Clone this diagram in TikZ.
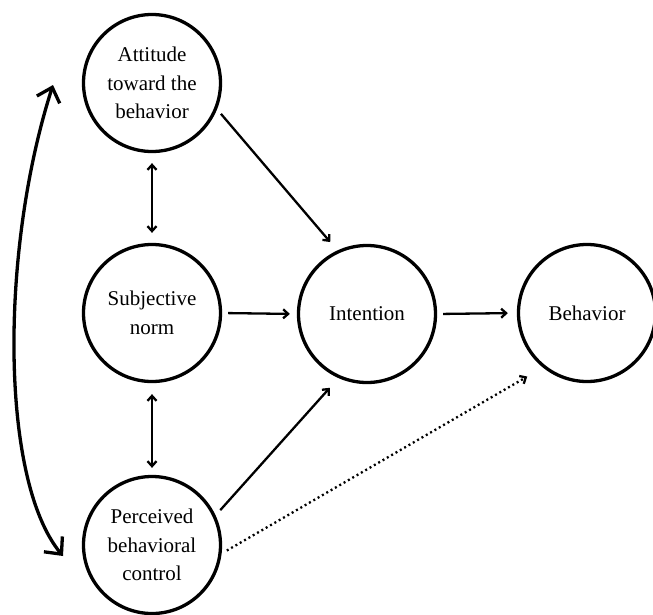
\documentclass[tikz,border=0pt]{standalone}
\usepackage{fontspec}
\setmainfont{Liberation Serif}
\usetikzlibrary{arrows.meta}
\begin{document}
\begin{tikzpicture}[x=1pt,y=-1pt,
  concept/.style={circle,draw,line width=3.3pt,minimum size=137pt,inner sep=0pt,align=center,
    font=\fontsize{21}{28.5}\selectfont},
  link/.style={line width=2.3pt,-{Straight Barb[length=5pt,width=9pt,line width=2.3pt]}},
  biLink/.style={line width=2.3pt,{Straight Barb[length=5pt,width=9pt,line width=2.3pt]}-{Straight Barb[length=5pt,width=9pt,line width=2.3pt]}},
  bigLink/.style={line width=3.3pt,{Straight Barb[length=13pt,width=24pt,line width=3.3pt]}-{Straight Barb[length=13pt,width=24pt,line width=3.3pt]}},
  dotLink/.style={line width=2.3pt,dash pattern=on 2pt off 3pt,-{Straight Barb[length=5pt,width=9pt,line width=2.3pt]}}
]
\useasboundingbox (0,0) rectangle (653,614);
\node[concept] (att) at (152,83) {Attitude\\toward the\\behavior};
\node[concept] (sub) at (152,313) {Subjective\\norm};
\node[concept] (pbc) at (152,545) {Perceived\\behavioral\\control};
\node[concept] (int) at (367,314) {Intention};
\node[concept] (beh) at (587,313) {Behavior};
\coordinate (ctop) at (53,85);
\coordinate (cbot) at (63,556);

\draw[biLink,shorten <=10pt,shorten >=10pt] (att.south) -- (sub.north);
\draw[biLink,shorten <=11pt,shorten >=7pt] (sub.south) -- (pbc.north);
\draw[link,shorten <=6pt,shorten >=7pt] (sub.east) -- (int.west);
\draw[link,shorten <=6pt,shorten >=9pt] (int.east) -- (beh.west);
\draw[link,shorten <=6pt,shorten >=11pt] (att.-22.5) -- (int.115.6);
\draw[link,shorten <=7pt,shorten >=13pt] (pbc.25.2) -- (int.-114);
\draw[dotLink,shorten <=6pt,shorten >=18pt] (pbc.-7.6) -- (beh.-129.5);
\draw[bigLink] (ctop) .. controls (0,250) and (0,480) .. (cbot);
\end{tikzpicture}
\end{document}
